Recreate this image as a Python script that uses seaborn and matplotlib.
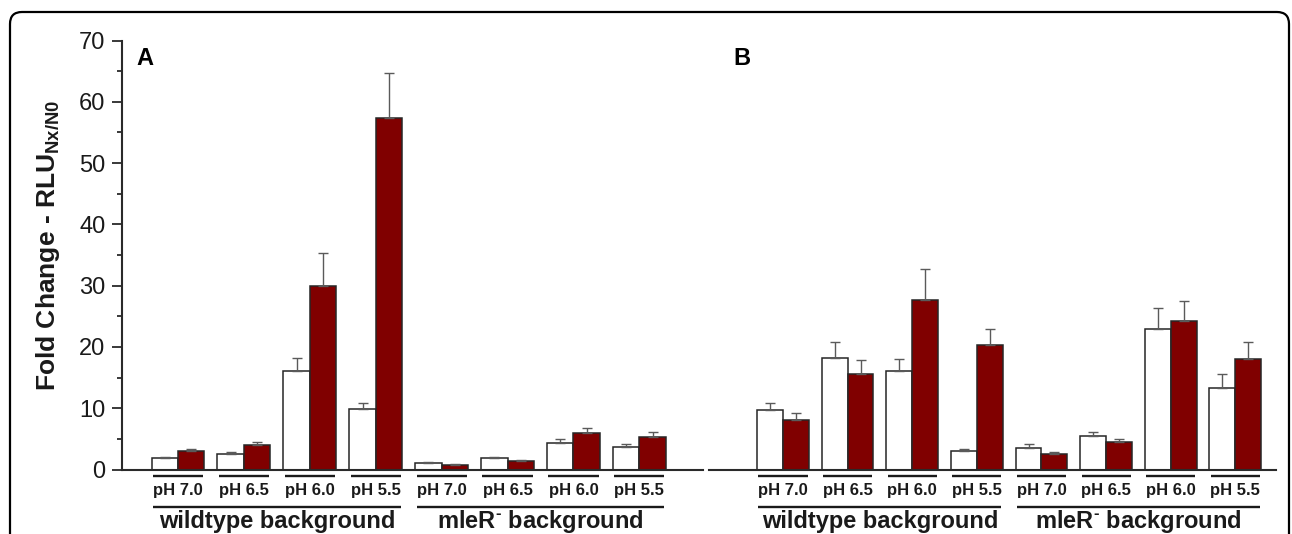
import numpy as np
import pandas as pd
import matplotlib.pyplot as plt
import matplotlib.transforms as mtransforms
from matplotlib.patches import FancyBboxPatch
from matplotlib.ticker import MultipleLocator
import seaborn as sns

# group labels (wildtype background first, then mleR- background)
ph_labels = ['pH 7.0', 'pH 6.5', 'pH 6.0', 'pH 5.5', 'pH 7.0', 'pH 6.5', 'pH 6.0', 'pH 5.5']
backgrounds = ['wildtype background', r'mleR$^{\text{-}}$ background']
background_groups = [[0, 1, 2, 3], [4, 5, 6, 7]]
series = ['open', 'filled']

# panel A values (fold change) and upper error
a_open = [1.85, 2.5, 16.1, 9.8, 1.0, 1.8, 4.3, 3.6]
a_open_err = [0.2, 0.3, 2.1, 1.1, 0.2, 0.25, 0.65, 0.6]
a_filled = [2.95, 3.95, 30.0, 57.3, 0.7, 1.35, 6.0, 5.35]
a_filled_err = [0.4, 0.55, 5.4, 7.4, 0.13, 0.12, 0.8, 0.8]

# panel B
b_open = [9.7, 18.2, 16.1, 2.95, 3.55, 5.45, 22.9, 13.35]
b_open_err = [1.1, 2.6, 2.0, 0.33, 0.63, 0.75, 3.4, 2.3]
b_filled = [8.0, 15.6, 27.65, 20.25, 2.5, 4.47, 24.3, 18.05]
b_filled_err = [1.25, 2.3, 5.0, 2.6, 0.33, 0.43, 3.15, 2.75]

sns.set_style('ticks')
plt.rcParams['font.family'] = 'Liberation Sans'
plt.rcParams['mathtext.fontset'] = 'custom'
plt.rcParams['mathtext.rm'] = 'Liberation Sans:bold'
plt.rcParams['mathtext.bf'] = 'Liberation Sans:bold'

INK = '#1a1a1a'


def draw_panel(ax, open_vals, open_err, filled_vals, filled_err, letter, letter_x, xlim):
    df = pd.DataFrame({
        'group': list(range(len(ph_labels))) * 2,
        'series': [series[0]] * len(ph_labels) + [series[1]] * len(ph_labels),
        'value': open_vals + filled_vals,
    })
    sns.barplot(data=df, x='group', y='value', hue='series', hue_order=series,
                palette=['white', '#800000'], saturation=1, width=0.8, gap=0,
                edgecolor='#262626', linewidth=1.1, errorbar=None, legend=False, ax=ax)

    # upward-only error bars on top of each bar
    for cont, errs in zip(ax.containers, [open_err, filled_err]):
        xs = [p.get_x() + p.get_width() / 2 for p in cont]
        ys = [p.get_height() for p in cont]
        ax.errorbar(xs, ys, yerr=[np.zeros(len(errs)), errs], fmt='none',
                    ecolor='#5a5a5a', elinewidth=1.0, capsize=3.8, capthick=1.0)

    ax.set_xlim(*xlim)
    ax.set_ylim(0, 70)
    ax.set_xlabel('')
    ax.set_ylabel('')
    ax.set_xticks(range(len(ph_labels)))
    ax.set_xticklabels(ph_labels, fontweight='bold', fontsize=12, color=INK)
    ax.tick_params(axis='x', length=0, pad=9.5)

    for side in ['top', 'right']:
        ax.spines[side].set_visible(False)
    ax.spines['bottom'].set_linewidth(1.5)
    ax.spines['bottom'].set_color('#2a2a2a')

    trans = mtransforms.blended_transform_factory(ax.transData, ax.transAxes)
    for i in range(len(ph_labels)):
        ax.plot([i - 0.38, i + 0.38], [-0.014, -0.014], transform=trans, clip_on=False,
                color=INK, lw=1.7, solid_capstyle='butt')
    for name, idx in zip(backgrounds, background_groups):
        ax.plot([idx[0] - 0.38, idx[-1] + 0.38], [-0.088, -0.088], transform=trans,
                clip_on=False, color=INK, lw=1.7, solid_capstyle='butt')
        ax.text((idx[0] + idx[-1]) / 2, -0.137, name, transform=trans, ha='center',
                va='baseline', fontsize=17, fontweight='bold', color=INK)

    ax.text(letter_x, 0.943, letter, transform=ax.transAxes, ha='left', va='baseline',
            fontsize=17, fontweight='bold', color='black')


fig = plt.figure(figsize=(12.92, 5.34), dpi=100)
W, H = 1292, 534
axA = fig.add_axes([122 / W, 1 - 469.5 / H, (702.7 - 122) / W, 429 / H])
axB = fig.add_axes([708.7 / W, 1 - 469.5 / H, (1276 - 708.7) / W, 429 / H])

draw_panel(axA, a_open, a_open_err, a_filled, a_filled_err, 'A', 0.024, (-0.848, 7.96))
draw_panel(axB, b_open, b_open_err, b_filled, b_filled_err, 'B', 0.043, (-1.15, 7.63))

# y axis only on panel A
axA.spines['left'].set_linewidth(1.5)
axA.spines['left'].set_color('#2a2a2a')
axA.set_yticks(range(0, 71, 10))
axA.yaxis.set_minor_locator(MultipleLocator(5))
axA.tick_params(axis='y', which='major', length=7, width=1.3, labelsize=17, pad=5,
                colors='#2a2a2a', labelcolor=INK)
axA.tick_params(axis='y', which='minor', length=3.5, width=1.3, colors='#2a2a2a')
axA.set_ylabel(r'Fold Change - RLU$_{\mathbf{Nx/N0}}$', fontsize=19, fontweight='bold', color=INK)
axA.yaxis.set_label_coords(-0.1025, 0.523)

axB.spines['left'].set_visible(False)
axB.set_yticks([])

# rounded frame around the figure
frame = FancyBboxPatch((0.10, -1.0), 12.79, 6.22, boxstyle='round,pad=0,rounding_size=0.12',
                       transform=fig.dpi_scale_trans, fill=False, ec='black', lw=1.6)
fig.add_artist(frame)

fig.savefig('out.png', dpi=100)
